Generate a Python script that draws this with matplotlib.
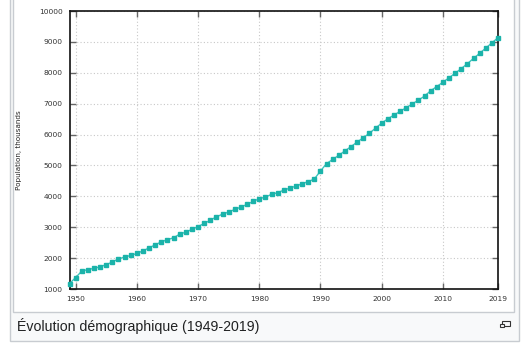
import matplotlib.pyplot as plt
from matplotlib.patches import Rectangle

# Population (thousands), 1949-2019
years = list(range(1949, 2020))
population = [
    1174, 1370, 1578, 1630, 1669, 1718, 1789, 1872, 1976, 2032,
    2089, 2150, 2234, 2332, 2430, 2526, 2598, 2657, 2776, 2841,
    2930, 3022, 3121, 3225, 3338, 3422, 3493, 3575, 3653, 3738,
    3836, 3922, 3978, 4064, 4119, 4200, 4266, 4331, 4407, 4477,
    4560, 4822, 5059, 5196, 5328, 5472, 5612, 5758, 5900, 6041,
    6209, 6369, 6509, 6631, 6748, 6870, 6991, 7117, 7244, 7419,
    7552, 7695, 7837, 7985, 8135, 8297, 8463, 8629, 8798, 8968,
    9136,
]
xticks = [1950, 1960, 1970, 1980, 1990, 2000, 2010, 2019]
yticks = [1000, 2000, 3000, 4000, 5000, 6000, 7000, 8000, 9000, 10000]

W, H = 521, 345
fig = plt.figure(figsize=(W / 100, H / 100), dpi=100)
fig.patch.set_facecolor('white')

def px(x0, y0, x1, y1):
    # pixel box (top-left origin) -> figure fraction rect
    return (x0 / W, 1 - y1 / H, (x1 - x0) / W, (y1 - y0) / H)

def box(x0, y0, x1, y1, fc, ec, lw=1):
    l, b, w, h = px(x0, y0, x1, y1)
    fig.patches.append(Rectangle((l, b), w, h, transform=fig.transFigure,
                                 facecolor=fc, edgecolor=ec, lw=lw, zorder=-5))

# wiki thumbnail frame
box(9.5, -5, 518.5, 341, '#f8f9fa', '#c8ccd1')
box(13, -5, 513.5, 312, 'white', '#c8ccd1')

ax = fig.add_axes(px(69.5, 11, 498, 289))
ax.set_facecolor('white')
ax.plot(years, population, color='#3cc4bc', lw=1, marker='s', markersize=3.4,
        markerfacecolor='#1bb3aa', markeredgecolor='#1bb3aa', clip_on=False, zorder=3)

ax.set_xlim(1949, 2019)
ax.set_ylim(1000, 10000)
ax.set_xticks(xticks)
ax.set_yticks(yticks)
ax.grid(True, color='#c8c8c8', linestyle=(0, (1, 2)), lw=0.8)
ax.tick_params(direction='in', length=4, width=1, color='#666666',
               labelsize=5.4, labelcolor='#333333', top=True, right=True, pad=5)
for s in ax.spines.values():
    s.set_color('#111111')
    s.set_linewidth(1.2)
ax.set_ylabel('Population, thousands', fontsize=5.2, color='#222222', labelpad=12)

fig.text(17 / W, 1 - 326 / H, 'Évolution démographique (1949-2019)',
         fontsize=10.2, family='Liberation Sans', color='#202122', va='center')

# enlarge icon
box(502, 320.5, 510, 325.5, 'none', '#333333', 0.8)
l, b, w, h = px(499.5, 323.5, 504, 327)
fig.patches.append(Rectangle((l, b), w, h, transform=fig.transFigure,
                             facecolor='#f8f9fa', edgecolor='#333333', lw=0.8))

fig.savefig('out.png', dpi=100)
